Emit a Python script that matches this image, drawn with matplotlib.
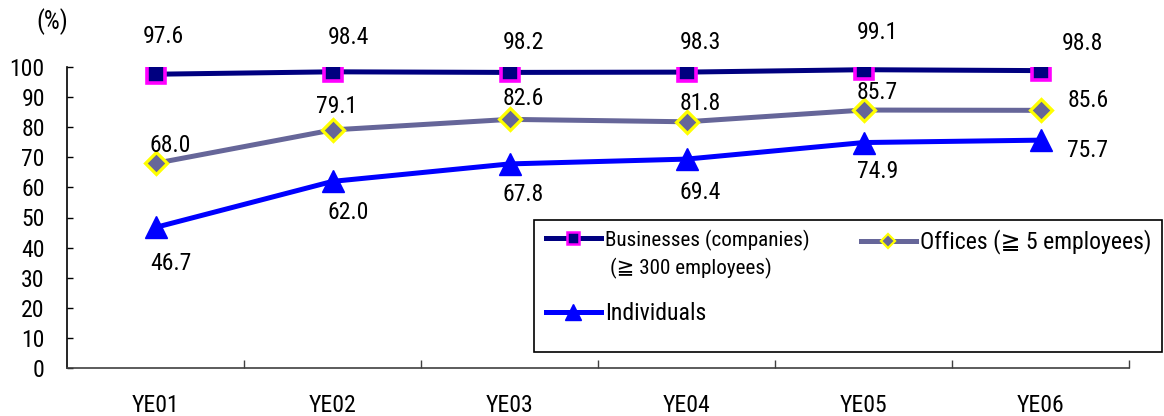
import matplotlib
matplotlib.use("Agg")
import matplotlib.pyplot as plt
from matplotlib import font_manager
from matplotlib.lines import Line2D
from matplotlib.patches import Rectangle
import numpy as np

categories = ["YE01", "YE02", "YE03", "YE04", "YE05", "YE06"]
businesses = [97.6, 98.4, 98.2, 98.3, 99.1, 98.8]
offices = [68.0, 79.1, 82.6, 81.8, 85.7, 85.6]
individuals = [46.7, 62.0, 67.8, 69.4, 74.9, 75.7]
yticks = [0, 10, 20, 30, 40, 50, 60, 70, 80, 90, 100]

bus_off = [(8, 38), (16, 34), (14, 30), (14, 30), (14, 37), (42, 27)]
off_off = [(15, 18), (4, 23), (14, 21), (14, 18), (14, 18), (48, 10)]
ind_off = [(15, -36), (16, -31), (14, -31), (14, -33), (14, -29), (47, -10)]

names = {f.name for f in font_manager.fontManager.ttflist}
FONT = None
for cand in ("Liberation Sans Narrow", "Arial Narrow", "Roboto Condensed", "Open Sans Condensed"):
    if cand in names:
        FONT = [cand, "DejaVu Sans"]
        S = 1.0 if "Narrow" in cand else 0.95
        break
if FONT is None:
    FONT = ["Liberation Sans", "DejaVu Sans"]
    S = 0.89
plt.rcParams["font.family"] = FONT

NAVY = "#000080"
MAG = "#FF00FF"
GREY = "#666699"
YEL = "#FFFF00"
BLUE = "#0000FF"

fig = plt.figure(figsize=(11.64, 4.16), dpi=100)
ax = fig.add_axes([67 / 1164, 1 - 368 / 416, (1129 - 67) / 1164, (368 - 67) / 416])

x = np.arange(len(categories))
ax.plot(x, businesses, color=NAVY, lw=3.6, marker="s", ms=13.5, mfc=NAVY, mec=MAG, mew=2.6, zorder=3)
ax.plot(x, offices, color=GREY, lw=3.6, marker="D", ms=11, mfc=GREY, mec=YEL, mew=2.3, zorder=3)
ax.plot(x, individuals, color=BLUE, lw=3.6, marker="^", ms=16, mfc=BLUE, mec=BLUE, mew=1, zorder=3)

for series, offs in ((businesses, bus_off), (offices, off_off), (individuals, ind_off)):
    for xi, v, (dx, dy) in zip(x, series, offs):
        ax.annotate(f"{v:.1f}", (xi, v), xytext=(dx, dy), textcoords="offset pixels",
                    ha="center", va="center", fontsize=18 * S, color="black", zorder=4)

ax.set_xlim(-0.5, 5.5)
ax.set_ylim(0, 100)
ax.set_yticks(yticks)
ax.set_yticklabels([str(t) for t in yticks], fontsize=18 * S)
ax.tick_params(axis="y", direction="in", length=4.5, width=1, pad=16, colors="black")

ax.set_xticks(np.arange(0.5, 6, 1))
ax.set_xticklabels([])
ax.tick_params(axis="x", which="major", direction="in", length=6, width=1, color="#404040")
ax.set_xticks(x, minor=True)
ax.set_xticklabels(categories, minor=True, fontsize=18 * S)
ax.tick_params(axis="x", which="minor", length=0, pad=19)

for s in ("top", "right"):
    ax.spines[s].set_visible(False)
ax.spines["left"].set_color("black")
ax.spines["left"].set_linewidth(1.2)
ax.spines["bottom"].set_color("#404040")
ax.spines["bottom"].set_linewidth(1.2)

fig.text(52 / 1164, 1 - 22 / 416, "(%)", ha="center", va="center", fontsize=19 * S)

# legend box
fig.patches.append(Rectangle((534 / 1164, 1 - 352 / 416), (1162 - 534) / 1164, (352 - 220) / 416,
                             transform=fig.transFigure, fill=True, facecolor="white",
                             edgecolor="black", lw=1.2, zorder=5))

h_bus = Line2D([], [], color=NAVY, lw=3.6, marker="s", ms=9, mfc=NAVY, mec=MAG, mew=1.8)
h_off = Line2D([], [], color=GREY, lw=3.6, marker="D", ms=7, mfc=GREY, mec=YEL, mew=1.6)
h_ind = Line2D([], [], color=BLUE, lw=3.6, marker="^", ms=11, mfc=BLUE, mec=BLUE)


def add_leg(handle, label, size, px, py, hl):
    leg = fig.legend([handle], [label], loc="center left",
                     bbox_to_anchor=(px / 1164, 1 - py / 416), frameon=False,
                     handlelength=hl, handletextpad=0.2,
                     borderpad=0, borderaxespad=0, prop={"family": FONT, "size": size})
    leg.set_zorder(6)
    return leg


add_leg(h_bus, "Businesses (companies)", 16 * S, 546, 240, 2.6)
fig.text(610 / 1164, 1 - 268 / 416, "(\u2267 300 employees)", ha="left", va="center",
         fontsize=16 * S, zorder=7)
add_leg(h_ind, "Individuals", 18 * S, 546, 314, 2.3)
add_leg(h_off, "Offices (\u2267 5 employees)", 18 * S, 861, 242, 2.3)

fig.savefig("out.png", dpi=100)
